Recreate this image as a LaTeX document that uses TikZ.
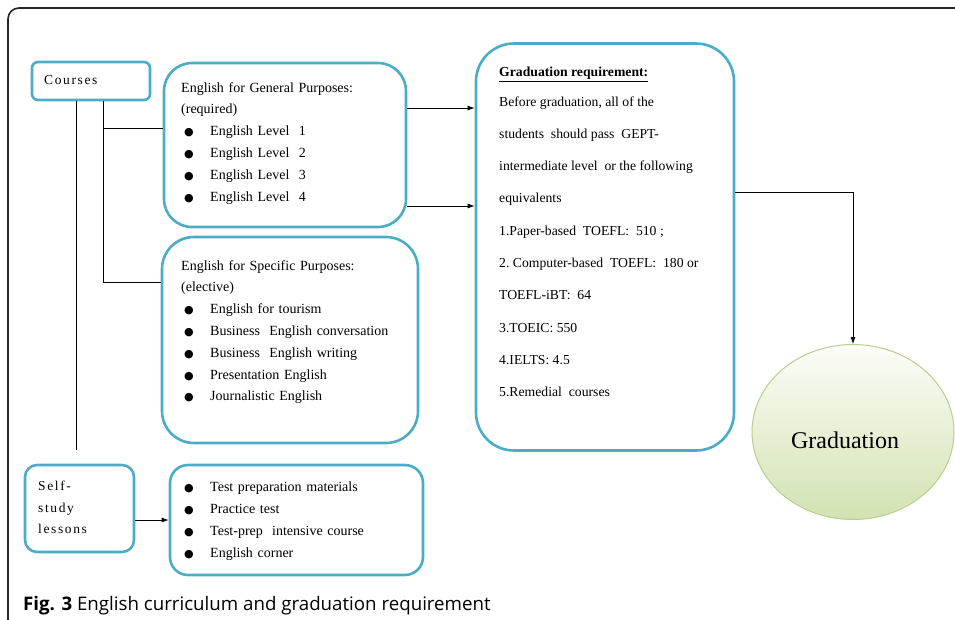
\documentclass[tikz,border=0pt]{standalone}
\usepackage{fontspec}
\setmainfont{Liberation Serif}
\newfontfamily\capfont{Open Sans}
\newfontfamily\symfont{DejaVu Sans}
\newfontfamily\spacedfont[LetterSpace=12]{Liberation Serif}
\usetikzlibrary{arrows.meta,shapes.geometric,calc}
\definecolor{boxblue}{RGB}{75,172,198}
\definecolor{elltop}{RGB}{252,253,248}
\definecolor{ellbot}{RGB}{210,226,178}
\definecolor{ellline}{RGB}{185,207,140}
\tikzset{
  bluebox/.style={draw=boxblue, line width=2.6pt, fill=white, rectangle, inner sep=0pt},
  conn/.style={draw=black, line width=0.8pt},
  arr/.style={conn, -{Latex[length=7pt,width=5pt]}},
  txt/.style={anchor=north west, align=left, inner sep=0pt, font=\rmfamily\fontsize{14}{21.8}\selectfont},
}
\newcommand{\bul}{\makebox[26pt][l]{\symfont\fontsize{11}{11}\selectfont ●}}
\begin{document}
\begin{tikzpicture}[x=1pt,y=-1pt]
\useasboundingbox (0,0) rectangle (955,619);
% outer frame
\draw[line width=1.6pt, draw=black!85, rounded corners=11pt] (8,640) -- (8,8) -- (980,8);

% boxes
\node[bluebox, rounded corners=6pt, minimum width=118pt, minimum height=38pt] (courses) at (91,81) {};
\node[bluebox, rounded corners=28pt, minimum width=242pt, minimum height=164pt] (egp) at (285,145) {};
\node[bluebox, rounded corners=32pt, minimum width=256pt, minimum height=206pt] (esp) at (290,340) {};
\node[bluebox, rounded corners=12pt, minimum width=109pt, minimum height=87pt] (self) at (79.5,508.5) {};
\node[bluebox, rounded corners=18pt, minimum width=253pt, minimum height=110pt] (items) at (296.5,520) {};
\node[bluebox, rounded corners=38pt, minimum width=258pt, minimum height=407pt] (gr) at (605,247) {};
\node[ellipse, draw=ellline, line width=1pt, top color=elltop, bottom color=ellbot, minimum width=202pt, minimum height=175pt, inner sep=0pt] (grad) at (853,432) {};

% texts
\node[anchor=west, inner sep=0pt, font=\spacedfont\fontsize{13.5}{14}\selectfont] (tcourses) at (44,80) {Courses};
\node[txt, text width=230pt] (tegp) at (181,82) {English for General Purposes:\\(required)\\
\hspace*{3pt}\bul English Level\ \ 1\\
\hspace*{3pt}\bul English Level\ \ 2\\
\hspace*{3pt}\bul English Level\ \ 3\\
\hspace*{3pt}\bul English Level\ \ 4};
\node[txt, text width=240pt] (tesp) at (181,260) {English for Specific Purposes:\\(elective)\\
\hspace*{3pt}\bul English for tourism\\
\hspace*{3pt}\bul Business\ \ English conversation\\
\hspace*{3pt}\bul Business\ \ English writing\\
\hspace*{3pt}\bul Presentation English\\
\hspace*{3pt}\bul Journalistic English};
\node[txt, font=\spacedfont\fontsize{13.5}{21.5}\selectfont] (tself) at (38,481) {Self-\\study\\lessons};
\node[txt, text width=240pt] (titems) at (184,482) {\bul Test preparation materials\\
\bul Practice test\\
\bul Test-prep\ \ intensive course\\
\bul English corner};
\node[txt, font=\rmfamily\fontsize{13.7}{32.3}\selectfont] (tgr) at (499,67) {\textbf{\underline{Graduation requirement:}}\\[-3pt]
Before graduation, all of the\\
students\ \ should pass\ \ GEPT-\\
intermediate level\ \ or the following\\
equivalents\\
1.Paper-based\ \ TOEFL:\ \ 510\ ;\\
2.\ Computer-based\ \ TOEFL:\ \ 180 or\\
TOEFL-iBT:\ \ 64\\
3.TOEIC:\ 550\\
4.IELTS:\ 4.5\\
5.Remedial\ \ courses};
\node[inner sep=0pt, font=\rmfamily\fontsize{24}{28}\selectfont] (tgrad) at (845,440) {Graduation};
\node[anchor=base west, inner sep=0pt, font=\capfont\fontsize{18.7}{22}\selectfont] (caption) at (23,610) {\textbf{Fig. 3} English curriculum and graduation requirement};

% connectors
\coordinate (v1end) at (76,450);
\coordinate (b1) at (103,128);
\coordinate (b2) at (103,282);
\draw[conn] (courses.south -| v1end) -- (v1end);
\draw[conn] (courses.south -| b2) -- (b2) -- (b2 -| esp.west);
\draw[conn] (b1) -- (b1 -| egp.west);
\coordinate (a1) at (440,108);
\coordinate (a2) at (440,206);
\draw[arr] (a1 -| egp.east) -- (a1 -| gr.west);
\draw[arr] (a2 -| egp.east) -- (a2 -| gr.west);
\coordinate (a3) at (853,192);
\draw[arr] (a3 -| gr.east) -- (a3) -- (grad.north);
\draw[arr] (self.east |- 0,520) -- (items.west |- 0,520);
\end{tikzpicture}
\end{document}
